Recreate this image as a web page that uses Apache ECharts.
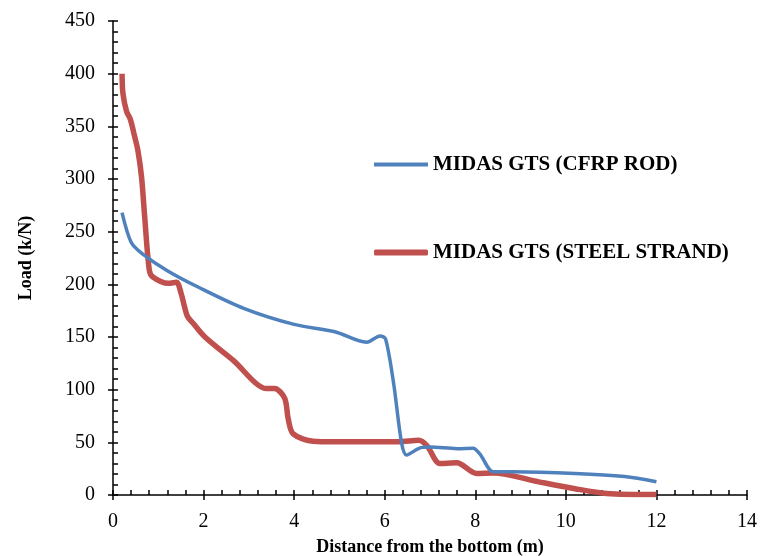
<!DOCTYPE html>
<html>
<head>
<meta charset="utf-8">
<script src="https://cdn.jsdelivr.net/npm/echarts@6/dist/echarts.min.js"></script>
<style>
  html, body { margin: 0; padding: 0; background: #fff; }
  #chart { width: 760px; height: 556px; }
</style>
</head>
<body>
<div id="chart"></div>
<script>
// Load along the anchor vs. distance from the bottom
const seriesNames = ['MIDAS GTS (CFRP ROD)', 'MIDAS GTS (STEEL STRAND)'];

// [distance (m), load]
const cfrpRod = [
  [0.2, 268], [0.4, 240], [0.65, 229], [1.2, 213], [1.9, 197], [2.9, 177],
  [4.0, 162], [4.9, 155], [5.6, 145], [5.9, 151], [6.02, 148], [6.2, 105],
  [6.37, 50], [6.48, 38], [6.8, 45], [7.0, 45.5], [7.6, 44], [7.95, 44.5],
  [8.1, 39], [8.4, 22], [8.8, 22], [10.2, 20.5], [11.3, 17.5], [12, 12.5]
];

const steelStrand = [
  [0.2, 400], [0.22, 381], [0.3, 364], [0.38, 357], [0.48, 340], [0.55, 327],
  [0.63, 302], [0.7, 264], [0.8, 214], [0.88, 207], [1.22, 201], [1.4, 202],
  [1.5, 192], [1.64, 170], [1.77, 163], [2.03, 150], [2.65, 128], [3.4, 101],
  [3.57, 101], [3.79, 92], [3.87, 72], [3.98, 58], [4.42, 51], [4.9, 50.5],
  [6.3, 50.5], [6.75, 52], [6.93, 47], [7.22, 30], [7.59, 30.5], [8.03, 20.5],
  [8.4, 21], [9.4, 12.5], [10.2, 6], [10.9, 1.5], [12, 0.5]
];

const xRange = { min: 0, max: 14, interval: 2 };
const yRange = { min: 0, max: 450, interval: 50 };
const xTitle = 'Distance from the bottom (m)';
const yTitle = 'Load (k/N)';

const FONT = '"Liberation Serif", "Times New Roman", serif';
const BLUE = '#4F81BD';
const RED = '#C0504D';

const chart = echarts.init(document.getElementById('chart'), null, { renderer: 'canvas' });

const tickLine = { color: '#000', width: 1.5 };
const plotBox = { left: 113, right: 13, top: 21, bottom: 61, containLabel: false, outerBoundsMode: 'none' };

// plot axes: line, labels, inner major + minor ticks
const mainX = {
  type: 'value', gridIndex: 0, position: 'bottom', ...xRange,
  name: xTitle, nameLocation: 'middle', nameGap: 43,
  nameTextStyle: { fontFamily: FONT, fontSize: 18, fontWeight: 'bold', color: '#000' },
  axisLine: { show: true, onZero: false, lineStyle: { color: '#000', width: 1.5 } },
  axisTick: { show: true, inside: true, length: 5, lineStyle: tickLine },
  minorTick: { show: true, splitNumber: 5, length: 5, lineStyle: tickLine },
  axisLabel: { show: true, fontFamily: FONT, fontSize: 20, color: '#000', margin: 17 },
  splitLine: { show: false }
};
const mainY = {
  type: 'value', gridIndex: 0, position: 'left', ...yRange,
  name: yTitle, nameLocation: 'middle', nameGap: 78, nameRotate: 90,
  nameTextStyle: { fontFamily: FONT, fontSize: 18, fontWeight: 'bold', color: '#000' },
  axisLine: { show: true, onZero: false, lineStyle: { color: '#000', width: 1.5 } },
  axisTick: { show: true, inside: true, length: 5, lineStyle: tickLine },
  minorTick: { show: true, splitNumber: 5, length: 5, lineStyle: tickLine },
  axisLabel: { show: true, fontFamily: FONT, fontSize: 20, color: '#000', margin: 18 },
  splitLine: { show: false }
};
// second grid on the same box: outer half of the major ticks
const outerX = {
  type: 'value', gridIndex: 1, position: 'bottom', ...xRange,
  axisLine: { show: false, onZero: false }, axisLabel: { show: false }, splitLine: { show: false },
  axisTick: { show: true, inside: false, length: 5, lineStyle: tickLine }
};
const outerY = {
  type: 'value', gridIndex: 1, position: 'left', ...yRange,
  axisLine: { show: false, onZero: false }, axisLabel: { show: false }, splitLine: { show: false },
  axisTick: { show: true, inside: false, length: 5, lineStyle: tickLine }
};

const legendText = { fontFamily: FONT, fontSize: 21, fontWeight: 'bold', color: '#000' };

chart.setOption({
  animation: false,
  backgroundColor: '#fff',
  grid: [plotBox, { ...plotBox }],
  xAxis: [mainX, outerX],
  yAxis: [mainY, outerY],
  legend: [
    {
      data: [{ name: seriesNames[0], icon: 'rect' }], left: 374, top: 154, itemWidth: 54, itemHeight: 4,
      textStyle: legendText, padding: 0
    },
    {
      data: [{ name: seriesNames[1], icon: 'roundRect' }], left: 374, top: 242, itemWidth: 54, itemHeight: 6,
      textStyle: legendText, padding: 0
    }
  ],
  series: [
    {
      name: seriesNames[0], type: 'line', data: cfrpRod, xAxisIndex: 0, yAxisIndex: 0,
      smooth: 0.3, symbol: 'none', lineStyle: { color: BLUE, width: 3.5 }, itemStyle: { color: BLUE }, z: 3
    },
    {
      name: seriesNames[1], type: 'line', data: steelStrand, xAxisIndex: 0, yAxisIndex: 0,
      smooth: 0.3, symbol: 'none', lineStyle: { color: RED, width: 5.5 }, itemStyle: { color: RED }, z: 2
    }
  ]
});
</script>
</body>
</html>
